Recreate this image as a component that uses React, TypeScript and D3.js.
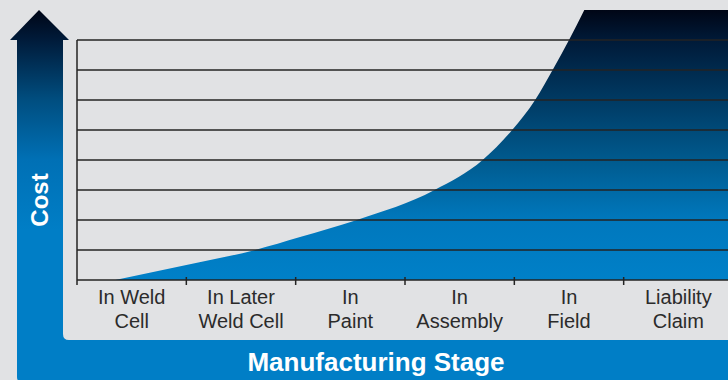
import React from "react";
import * as d3 from "d3";

const categories: string[][] = [
  ["In Weld", "Cell"],
  ["In Later", "Weld Cell"],
  ["In", "Paint"],
  ["In", "Assembly"],
  ["In", "Field"],
  ["Liability", "Claim"],
];
// curve position along stage axis (0..6) and cost (gridline units)
const curveStage = [0.35, 1.0, 1.63, 2.04, 2.56, 3.27, 3.71, 3.98, 4.19, 4.35, 4.5, 4.64];
const curveCost = [0, 0.5, 1, 1.43, 2, 3, 4, 5, 6, 7, 8, 9];
const gridTicks = [0, 1, 2, 3, 4, 5, 6, 7, 8];
const yAxisTitle = "Cost";
const xAxisTitle = "Manufacturing Stage";

const W = 728;
const H = 380;

export default function App() {
  const x = d3.scaleLinear().domain([0, 6]).range([77, 733]);
  const y = d3.scaleLinear().domain([0, 8]).range([280, 40]);

  const pts: [number, number][] = curveStage.map((s, i) => [x(s), y(curveCost[i])]);
  const line = d3.line().curve(d3.curveMonotoneX)(pts) || "";
  const last = pts[pts.length - 1];
  const areaPath = `${line}L${x(6)},${last[1]}L${x(6)},${y(0)}L${pts[0][0]},${y(0)}Z`;

  const font = "'Liberation Sans', Arial, sans-serif";

  // L-shaped arrow outline
  const arrowPath = [
    "M39,10",
    "L69,40",
    "L63,40",
    "L63,334",
    "Q63,340 69,340",
    `L${W},340`,
    `L${W},${H + 2}`,
    "L22,382",
    "Q17,382 17,377",
    "L17,40",
    "L10,40",
    "Z",
  ].join(" ");

  return (
    <div style={{ position: "fixed", left: 0, top: 0 }}>
      <svg width={W} height={H} style={{ display: "block" }}>
        <defs>
          <linearGradient id="arrowGrad" gradientUnits="userSpaceOnUse" x1="0" y1="10" x2="0" y2="230">
            <stop offset="0" stopColor="#000616" />
            <stop offset="0.136" stopColor="#001b3a" />
            <stop offset="0.41" stopColor="#004e80" />
            <stop offset="0.68" stopColor="#0070b5" />
            <stop offset="1" stopColor="#007ec6" />
          </linearGradient>
          <linearGradient id="areaGrad" gradientUnits="userSpaceOnUse" x1="0" y1="10" x2="0" y2="280">
            <stop offset="0" stopColor="#000616" />
            <stop offset="0.111" stopColor="#001a38" />
            <stop offset="0.333" stopColor="#003a63" />
            <stop offset="0.556" stopColor="#005a8e" />
            <stop offset="0.778" stopColor="#0078bd" />
            <stop offset="1" stopColor="#0080c8" />
          </linearGradient>
        </defs>
        <rect x={0} y={0} width={W} height={H} fill="#e1e2e4" />
        <path d={arrowPath} fill="url(#arrowGrad)" />
        <path d={areaPath} fill="url(#areaGrad)" />
        {gridTicks.map((t) => (
          <line key={t} x1={x(0)} x2={x(6)} y1={y(t)} y2={y(t)} stroke="#232323" strokeWidth={1.5} />
        ))}
        <line x1={x(0)} x2={x(0)} y1={y(8)} y2={285} stroke="#232323" strokeWidth={1.5} />
        {categories.map((_, i) => (
          <line key={i} x1={x(i + 1)} x2={x(i + 1)} y1={277} y2={285} stroke="#232323" strokeWidth={1.5} />
        ))}
        {categories.map((c, i) => (
          <text
            key={i}
            x={x(i + 0.5)}
            textAnchor="middle"
            fontFamily={font}
            fontSize={20}
            fill="#2b2b2b"
          >
            <tspan x={x(i + 0.5)} y={304}>{c[0]}</tspan>
            <tspan x={x(i + 0.5)} y={328}>{c[1]}</tspan>
          </text>
        ))}
        <text
          transform="translate(48,200) rotate(-90)"
          textAnchor="middle"
          fontFamily={font}
          fontWeight="bold"
          fontSize={24}
          fill="#ffffff"
        >
          {yAxisTitle}
        </text>
        <text
          x={376}
          y={371}
          textAnchor="middle"
          fontFamily={font}
          fontWeight="bold"
          fontSize={26}
          fill="#ffffff"
        >
          {xAxisTitle}
        </text>
      </svg>
    </div>
  );
}
